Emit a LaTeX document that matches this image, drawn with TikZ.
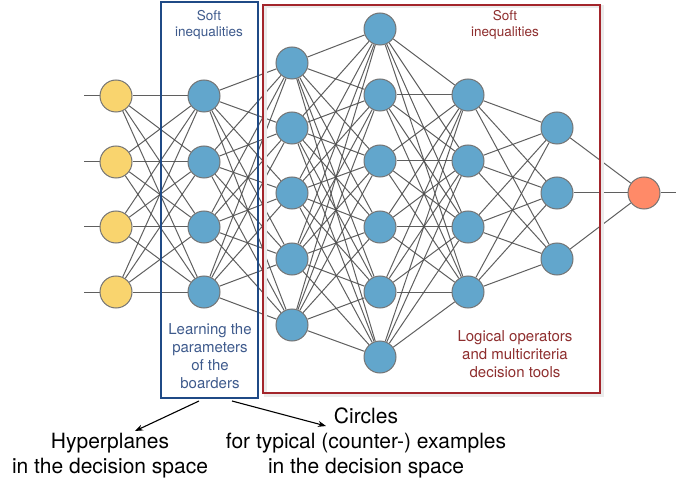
\documentclass[tikz,border=0pt]{standalone}
\usepackage{fontspec}
\setmainfont{TeX Gyre Heros}
\usetikzlibrary{arrows.meta,backgrounds}
\definecolor{nodeblue}{HTML}{62A6CC}
\definecolor{nodeyellow}{HTML}{F9D46E}
\definecolor{nodeorange}{HTML}{FF8A68}
\definecolor{nodeborder}{HTML}{747474}
\definecolor{edgegray}{HTML}{4E4E4E}
\definecolor{boxblue}{HTML}{1F4A86}
\definecolor{txtblue}{HTML}{3E5A8C}
\definecolor{boxred}{HTML}{A3252B}
\definecolor{txtred}{HTML}{8E2E2E}
\tikzset{
  neuron/.style={circle, draw=nodeborder, line width=1pt, minimum size=32pt, inner sep=0pt},
  yel/.style={neuron, fill=nodeyellow},
  blu/.style={neuron, fill=nodeblue},
  ora/.style={neuron, fill=nodeorange},
  edge/.style={draw=edgegray, line width=1pt, opacity=0.9},
  smalltxt/.style={align=center, font=\fontsize{13.5}{16}\selectfont},
  midtxt/.style={align=center, font=\fontsize{15}{18}\selectfont},
  bigtxt/.style={align=center, font=\fontsize{21}{25}\selectfont, text=black},
  arr/.style={-{Stealth[length=8pt,width=6pt]}, line width=1.1pt, black}
}
\begin{document}
\begin{tikzpicture}[x=1pt,y=-1pt]
\useasboundingbox (0,0) rectangle (686,484);
% layers
\foreach \i/\y in {1/96,2/162,3/227,4/292} \node[yel] (a\i) at (116,\y) {};
\foreach \i/\y in {1/96,2/162,3/227,4/292} \node[blu] (b\i) at (204,\y) {};
\foreach \i/\y in {1/63,2/128,3/193,4/259,5/325} \node[blu] (c\i) at (292,\y) {};
\foreach \i/\y in {1/29,2/95,3/161,4/227,5/292,6/357} \node[blu] (d\i) at (380,\y) {};
\foreach \i/\y in {1/95,2/161,3/227,4/292} \node[blu] (e\i) at (468,\y) {};
\foreach \i/\y in {1/128,2/193,3/259} \node[blu] (f\i) at (557,\y) {};
\node[ora] (g1) at (644,193) {};
% free ends
\foreach \i/\y in {1/96,2/162,3/227,4/292} \coordinate (in\i) at (84,\y);
\coordinate (out) at (676,193);
\begin{scope}[on background layer]
\foreach \i in {1,...,4} \draw[edge] (in\i) -- (a\i);
\foreach \i in {1,...,4} \foreach \j in {1,...,4} \draw[edge] (a\i) -- (b\j);
\foreach \i in {1,...,4} \foreach \j in {1,...,5} \draw[edge] (b\i) -- (c\j);
\foreach \i in {1,...,5} \foreach \j in {1,...,6} \draw[edge] (c\i) -- (d\j);
\foreach \i in {1,...,6} \foreach \j in {1,...,4} \draw[edge] (d\i) -- (e\j);
\foreach \i in {1,...,4} \foreach \j in {1,...,3} \draw[edge] (e\i) -- (f\j);
\foreach \i in {1,...,3} \draw[edge] (f\i) -- (g1);
\draw[edge] (g1) -- (out);
\end{scope}
% boxes
\draw[black!8, line width=3pt] (265,7) rectangle (602,395);
\draw[boxred, line width=1.8pt] (263,5) rectangle (600,393);
\draw[boxblue, line width=1.6pt] (161,2) rectangle (258,398);
% texts
\node[smalltxt, text=txtblue] (softb) at (209,25) {Soft\\inequalities};
\node[smalltxt, text=txtred] (softr) at (505,25) {Soft\\inequalities};
\node[midtxt, text=txtblue] (learn) at (210,356) {Learning the\\parameters\\of the\\boarders};
\node[midtxt, text=txtred] (logic) at (515,354) {Logical operators\\and multicriteria\\decision tools};
\node[bigtxt] (hyper) at (110,456) {Hyperplanes\\in the decision space};
\node[bigtxt] (circ) at (366,443) {Circles\\for typical (counter-) examples\\in the decision space};
% arrows
\coordinate (s1) at (199,401);
\coordinate (t1) at (135,431);
\coordinate (s2) at (232,401);
\coordinate (t2) at (326,426);
\draw[arr] (s1) -- (t1);
\draw[arr] (s2) -- (t2);
\end{tikzpicture}
\end{document}
